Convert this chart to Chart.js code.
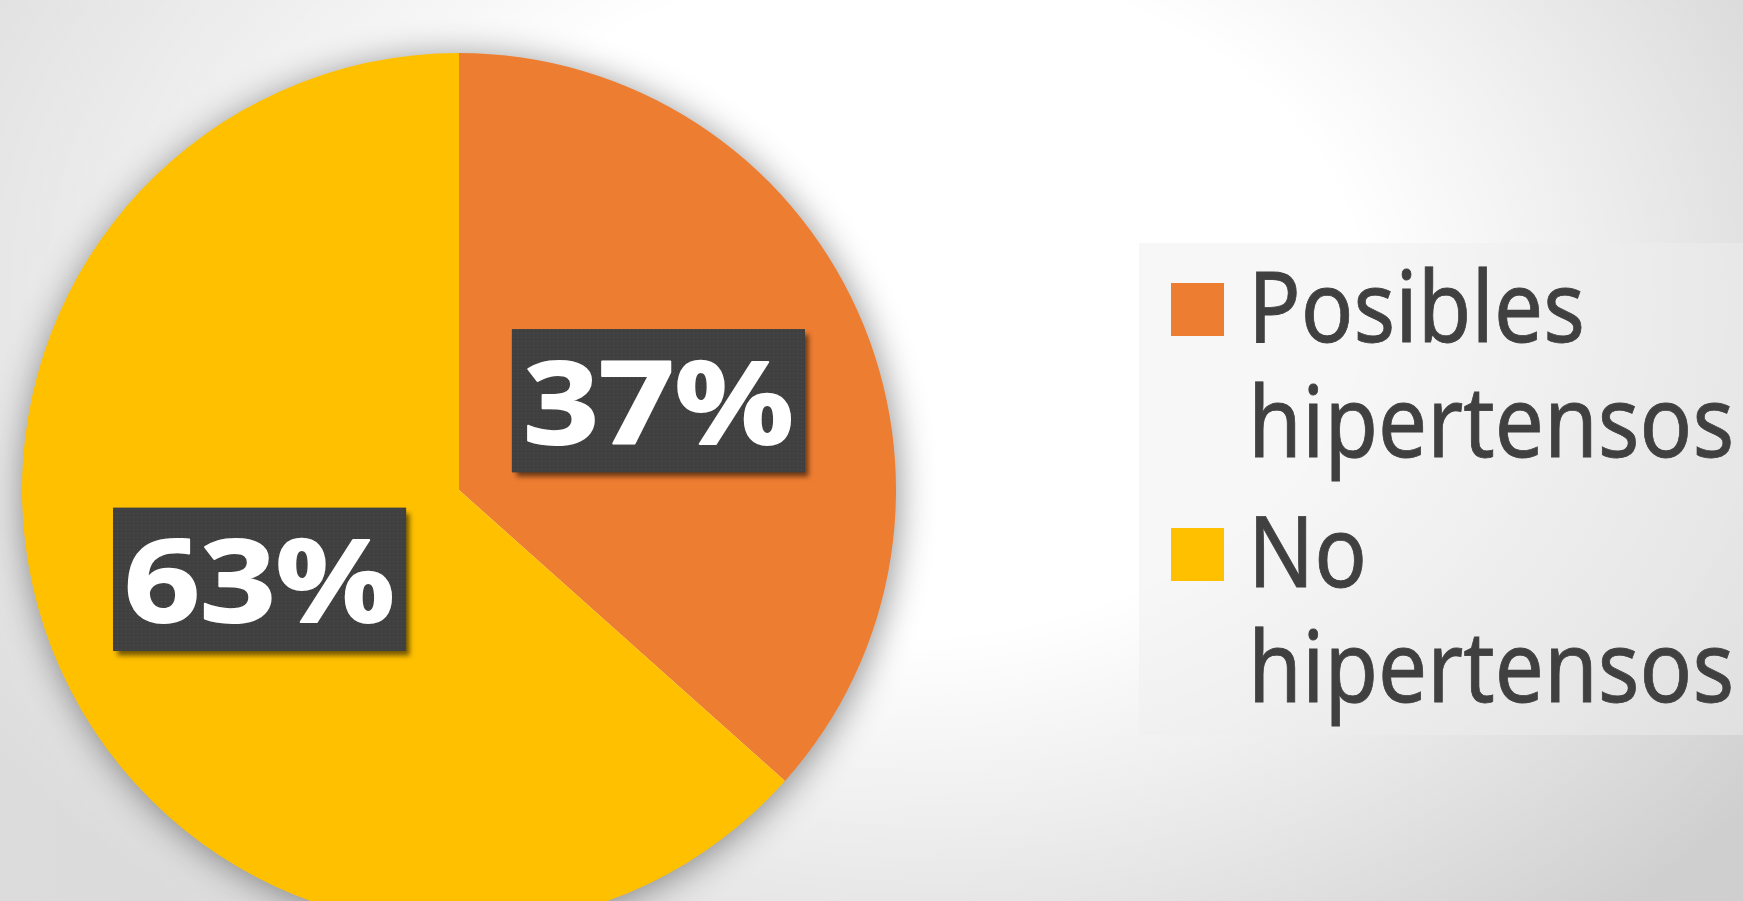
<!DOCTYPE html>
<html>
<head>
<meta charset="utf-8">
<script src="https://cdn.jsdelivr.net/npm/chart.js@4/dist/chart.umd.min.js"></script>
<style>
  html, body {
    margin: 0;
    padding: 0;
    width: 1743px;
    height: 901px;
    overflow: hidden;
  }
  body {
    position: relative;
    background:
      radial-gradient(ellipse 1100px 800px at 900px 300px, rgba(255,255,255,1) 42%, rgba(255,255,255,0) 100%),
      linear-gradient(to right, #dcdcdc, #cfcfcf);
  }
  #chartBox {
    position: absolute;
    left: 0;
    top: 0;
    width: 940px;
    height: 980px;
  }
  #legend {
    position: absolute;
    left: 1139px;
    top: 243px;
    width: 604px;
    height: 492px;
    background: rgba(238,238,238,0.47);
  }
  .item {
    position: absolute;
    left: 0;
  }
  .swatch {
    position: absolute;
    left: 32px;
    width: 53px;
    height: 53px;
  }
  .text {
    position: absolute;
    left: 109px;
    font-family: "Noto Sans", sans-serif;
    font-size: 98px;
    line-height: 115px;
    color: #404040;
    white-space: nowrap;
    -webkit-text-stroke: 0.8px #404040;
    transform: scaleX(0.89);
    transform-origin: left top;
  }
</style>
</head>
<body>
<div id="chartBox"><canvas id="pieChart"></canvas></div>
<div id="legend"></div>

<script>
// datos del gráfico
const categories = ['Posibles hipertensos', 'No hipertensos'];
const values = [36.6, 63.4];
const colors = ['#ED7D31', '#FFC000'];

const total = values.reduce((a, b) => a + b, 0);

// leyenda (dos líneas por etiqueta)
const legendTops = [4, 249];
const legend = document.getElementById('legend');
categories.forEach((cat, i) => {
  const parts = cat.split(' ');
  const first = parts.shift();
  const item = document.createElement('div');
  item.className = 'item';
  item.style.top = legendTops[i] + 'px';
  item.innerHTML = `
    <div class="swatch" style="top:36px;background:${colors[i]}"></div>
    <div class="text">${first}<br>${parts.join(' ')}</div>
  `;
  legend.appendChild(item);
});

// sombra suave bajo el círculo
const pieShadow = {
  id: 'pieShadow',
  beforeDatasetsDraw(chart) {
    const arc = chart.getDatasetMeta(0).data[0];
    if (!arc) return;
    const ctx = chart.ctx;
    ctx.save();
    ctx.shadowColor = 'rgba(0,0,0,0.45)';
    ctx.shadowBlur = 36;
    ctx.shadowOffsetX = 2;
    ctx.shadowOffsetY = 4;
    ctx.fillStyle = '#ffffff';
    ctx.beginPath();
    ctx.arc(arc.x, arc.y, arc.outerRadius - 1, 0, Math.PI * 2);
    ctx.fill();
    ctx.restore();
  }
};

// patrón punteado para las etiquetas
function makePattern(ctx) {
  const p = document.createElement('canvas');
  p.width = 4;
  p.height = 4;
  const pc = p.getContext('2d');
  pc.fillStyle = '#404040';
  pc.fillRect(0, 0, 4, 4);
  pc.fillStyle = '#4e4e4e';
  pc.fillRect(1, 1, 1, 1);
  return ctx.createPattern(p, 'repeat');
}

// etiquetas con porcentaje
const boxLabels = {
  id: 'boxLabels',
  afterDatasetsDraw(chart) {
    const ctx = chart.ctx;
    const meta = chart.getDatasetMeta(0);
    const pattern = makePattern(ctx);
    const w = 293, h = 143;
    meta.data.forEach((arc, i) => {
      const pos = arc.tooltipPosition();
      const x = pos.x - w / 2;
      const y = pos.y - h / 2;
      ctx.save();
      ctx.shadowColor = 'rgba(0,0,0,0.55)';
      ctx.shadowBlur = 5;
      ctx.shadowOffsetX = 4;
      ctx.shadowOffsetY = 5;
      ctx.fillStyle = '#404040';
      ctx.fillRect(x, y, w, h);
      ctx.restore();
      ctx.save();
      ctx.fillStyle = pattern;
      ctx.fillRect(x, y, w, h);
      ctx.translate(pos.x, pos.y + 43);
      ctx.scale(1.15, 1);
      ctx.fillStyle = '#ffffff';
      ctx.strokeStyle = '#ffffff';
      ctx.lineWidth = 2;
      ctx.lineJoin = 'round';
      ctx.font = 'bold 115px "Noto Sans"';
      ctx.textAlign = 'center';
      ctx.textBaseline = 'alphabetic';
      const pct = Math.round(values[i] / total * 100) + '%';
      ctx.strokeText(pct, 0, 0);
      ctx.fillText(pct, 0, 0);
      ctx.restore();
    });
  }
};

const ctx = document.getElementById('pieChart').getContext('2d');
new Chart(ctx, {
  type: 'pie',
  data: {
    labels: categories,
    datasets: [{
      data: values,
      backgroundColor: colors,
      borderWidth: 0,
      hoverOffset: 0,
      offset: 0
    }]
  },
  options: {
    responsive: true,
    maintainAspectRatio: false,
    animation: false,
    layout: {
      padding: { left: 22, top: 53, right: 44, bottom: 53 }
    },
    plugins: {
      legend: { display: false },
      tooltip: { enabled: false }
    }
  },
  plugins: [pieShadow, boxLabels]
});
</script>
</body>
</html>
